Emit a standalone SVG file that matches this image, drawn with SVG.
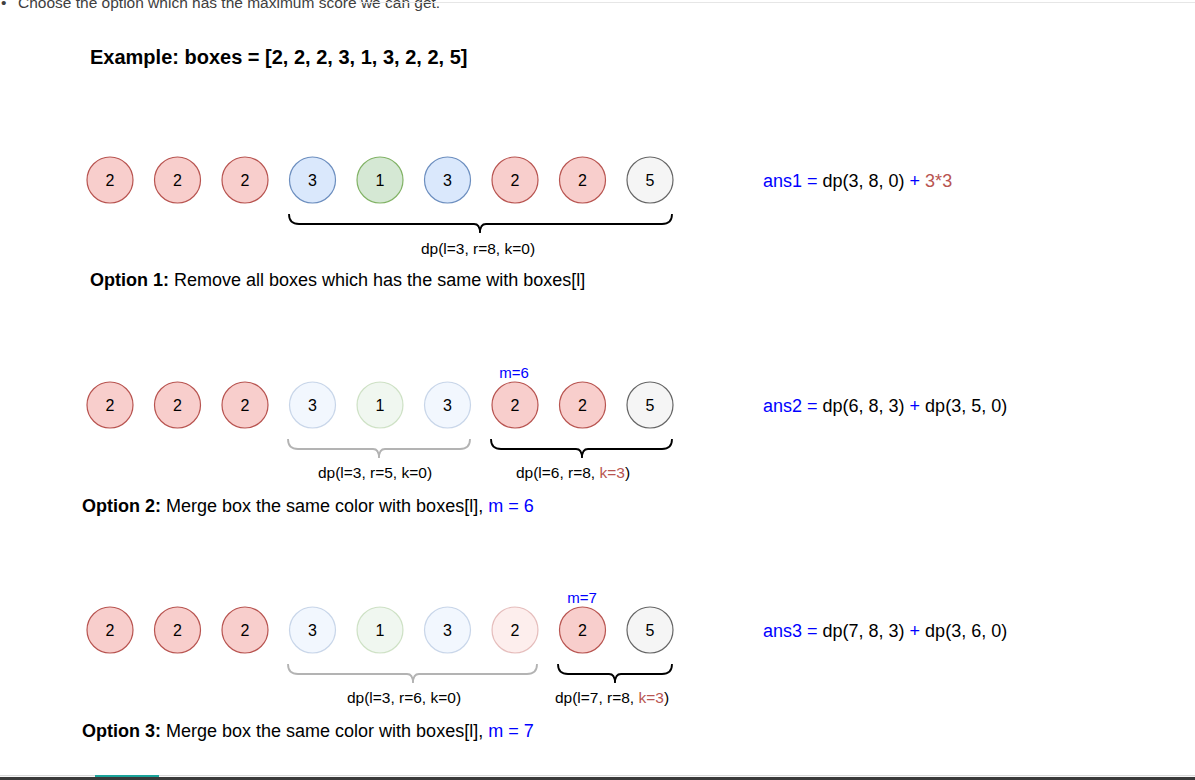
<svg xmlns="http://www.w3.org/2000/svg" width="1195" height="780" viewBox="0 0 1195 780">
<style>
  text { font-family: "Liberation Sans", Arial, sans-serif; fill: #000; }
  .num { font-size: 16px; text-anchor: middle; }
  .red { fill: #f8cecc; stroke: #b85450; stroke-width: 1.2; }
  .blue { fill: #dae8fc; stroke: #6c8ebf; stroke-width: 1.2; }
  .green { fill: #d5e8d4; stroke: #82b366; stroke-width: 1.2; }
  .gray { fill: #f5f5f5; stroke: #666666; stroke-width: 1.2; }
  .faded { fill-opacity: 0.35; stroke-opacity: 0.35; }
  .brace { fill: none; stroke: #000; stroke-width: 1.8; }
  .brace.light { stroke: #b3b3b3; }
  .lbl { font-size: 15.5px; text-anchor: middle; }
  .mlbl { font-size: 15px; text-anchor: middle; fill: #0000ff; }
  .opt { font-size: 18px; }
  .ans { font-size: 18px; }
  .b { fill: #0000ff; }
  .r { fill: #b85450; }
</style>

<!-- page chrome -->
<g id="chrome">
  <text x="1" y="8" style="font-size:15.5px;fill:#404040">•</text>
  <text x="18" y="8" style="font-size:15.5px;fill:#404040">Choose the option which has the maximum score we can get.</text>
  <path d="M360,0 V2.5 H1195" fill="none" stroke="#e6e6e6" stroke-width="1"/>
  <rect x="0" y="775" width="1195" height="1.2" fill="#d9d9d9"/>
  <rect x="95" y="775" width="64" height="2" fill="#1aa39a"/>
  <rect x="0" y="777" width="1195" height="3" fill="#3a3a3a"/>
</g>

<g id="title">
  <text x="90" y="64" style="font-size:20px;font-weight:bold">Example: boxes = [2, 2, 2, 3, 1, 3, 2, 2, 5]</text>
</g>

<!-- Row 1 -->
<g id="row1">
  <g id="r1b0"><circle cx="110" cy="180" r="23" class="red"/><text x="110" y="185.5" class="num">2</text></g>
  <g id="r1b1"><circle cx="177.5" cy="180" r="23" class="red"/><text x="177.5" y="185.5" class="num">2</text></g>
  <g id="r1b2"><circle cx="245" cy="180" r="23" class="red"/><text x="245" y="185.5" class="num">2</text></g>
  <g id="r1b3"><circle cx="312.5" cy="180" r="23" class="blue"/><text x="312.5" y="185.5" class="num">3</text></g>
  <g id="r1b4"><circle cx="380" cy="180" r="23" class="green"/><text x="380" y="185.5" class="num">1</text></g>
  <g id="r1b5"><circle cx="447.5" cy="180" r="23" class="blue"/><text x="447.5" y="185.5" class="num">3</text></g>
  <g id="r1b6"><circle cx="515" cy="180" r="23" class="red"/><text x="515" y="185.5" class="num">2</text></g>
  <g id="r1b7"><circle cx="582.5" cy="180" r="23" class="red"/><text x="582.5" y="185.5" class="num">2</text></g>
  <g id="r1b8"><circle cx="650" cy="180" r="23" class="gray"/><text x="650" y="185.5" class="num">5</text></g>
  <text x="478" y="254" class="lbl">dp(l=3, r=8, k=0)</text>
  <text x="763" y="187" class="ans"><tspan class="b">ans1 = </tspan>dp(3, 8, 0)<tspan class="b"> + </tspan><tspan class="r">3*3</tspan></text>
  <text x="90" y="286" class="opt"><tspan font-weight="bold">Option 1:</tspan> Remove all boxes which has the same with boxes[l]</text>
</g>

<!-- Row 2 -->
<g id="row2">
  <g id="r2b0"><circle cx="110" cy="405" r="23" class="red"/><text x="110" y="410.5" class="num">2</text></g>
  <g id="r2b1"><circle cx="177.5" cy="405" r="23" class="red"/><text x="177.5" y="410.5" class="num">2</text></g>
  <g id="r2b2"><circle cx="245" cy="405" r="23" class="red"/><text x="245" y="410.5" class="num">2</text></g>
  <g id="r2b3"><circle cx="312.5" cy="405" r="23" class="blue faded"/><text x="312.5" y="410.5" class="num">3</text></g>
  <g id="r2b4"><circle cx="380" cy="405" r="23" class="green faded"/><text x="380" y="410.5" class="num">1</text></g>
  <g id="r2b5"><circle cx="447.5" cy="405" r="23" class="blue faded"/><text x="447.5" y="410.5" class="num">3</text></g>
  <g id="r2b6"><circle cx="515" cy="405" r="23" class="red"/><text x="515" y="410.5" class="num">2</text></g>
  <g id="r2b7"><circle cx="582.5" cy="405" r="23" class="red"/><text x="582.5" y="410.5" class="num">2</text></g>
  <g id="r2b8"><circle cx="650" cy="405" r="23" class="gray"/><text x="650" y="410.5" class="num">5</text></g>
  <text x="514" y="378" class="mlbl">m=6</text>
  <text x="375" y="478" class="lbl">dp(l=3, r=5, k=0)</text>
  <text x="573" y="478" class="lbl">dp(l=6, r=8, <tspan class="r">k=3</tspan>)</text>
  <text x="763" y="412" class="ans"><tspan class="b">ans2 = </tspan>dp(6, 8, 3)<tspan class="b"> + </tspan>dp(3, 5, 0)</text>
  <text x="82" y="512" class="opt"><tspan font-weight="bold">Option 2:</tspan> Merge box the same color with boxes[l], <tspan class="b">m = 6</tspan></text>
</g>

<!-- Row 3 -->
<g id="row3">
  <g id="r3b0"><circle cx="110" cy="630" r="23" class="red"/><text x="110" y="635.5" class="num">2</text></g>
  <g id="r3b1"><circle cx="177.5" cy="630" r="23" class="red"/><text x="177.5" y="635.5" class="num">2</text></g>
  <g id="r3b2"><circle cx="245" cy="630" r="23" class="red"/><text x="245" y="635.5" class="num">2</text></g>
  <g id="r3b3"><circle cx="312.5" cy="630" r="23" class="blue faded"/><text x="312.5" y="635.5" class="num">3</text></g>
  <g id="r3b4"><circle cx="380" cy="630" r="23" class="green faded"/><text x="380" y="635.5" class="num">1</text></g>
  <g id="r3b5"><circle cx="447.5" cy="630" r="23" class="blue faded"/><text x="447.5" y="635.5" class="num">3</text></g>
  <g id="r3b6"><circle cx="515" cy="630" r="23" class="red faded"/><text x="515" y="635.5" class="num">2</text></g>
  <g id="r3b7"><circle cx="582.5" cy="630" r="23" class="red"/><text x="582.5" y="635.5" class="num">2</text></g>
  <g id="r3b8"><circle cx="650" cy="630" r="23" class="gray"/><text x="650" y="635.5" class="num">5</text></g>
  <text x="582" y="603" class="mlbl">m=7</text>
  <text x="404" y="703" class="lbl">dp(l=3, r=6, k=0)</text>
  <text x="612" y="703" class="lbl">dp(l=7, r=8, <tspan class="r">k=3</tspan>)</text>
  <text x="763" y="637" class="ans"><tspan class="b">ans3 = </tspan>dp(7, 8, 3)<tspan class="b"> + </tspan>dp(3, 6, 0)</text>
  <text x="82" y="737" class="opt"><tspan font-weight="bold">Option 3:</tspan> Merge box the same color with boxes[l], <tspan class="b">m = 7</tspan></text>
</g>

<!-- braces -->
<g id="connectors">
  <path class="brace" d="M289,214 Q289,224 299,224 H474 Q480,224 480,233 Q480,224 486,224 H662 Q672,224 672,214"/>
  <path class="brace light" d="M288,439 Q288,449 298,449 H373 Q379,449 379,458 Q379,449 385,449 H460 Q470,449 470,439"/>
  <path class="brace" d="M491,439 Q491,449 501,449 H576 Q582,449 582,458 Q582,449 588,449 H662 Q672,449 672,439"/>
  <path class="brace light" d="M288,664 Q288,674 298,674 H407 Q413,674 413,683 Q413,674 419,674 H527 Q537,674 537,664"/>
  <path class="brace" d="M558,664 Q558,674 568,674 H609 Q615,674 615,683 Q615,674 621,674 H662 Q672,674 672,664"/>
</g>
</svg>
